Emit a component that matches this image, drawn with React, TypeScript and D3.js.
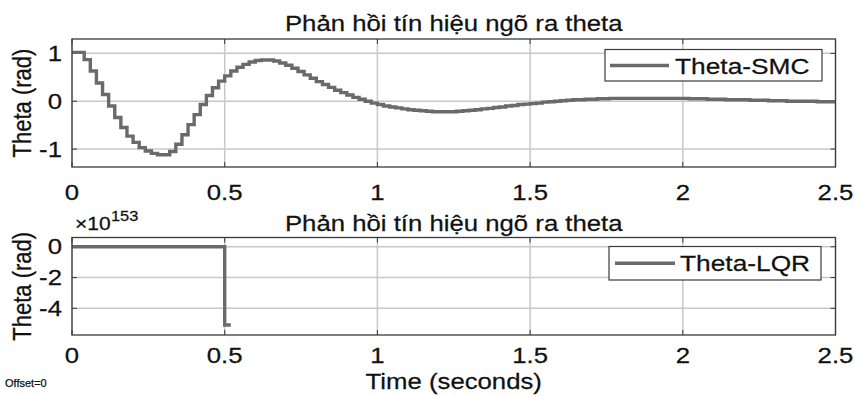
import React from "react";
import * as d3 from "d3";

// ---- data ----
const SAMPLE_TIME = 0.02; // seconds (zero-order-hold steps)
const SMC_THETA = [
  1.02, 1.02, 0.87, 0.63, 0.38, 0.14, -0.1, -0.34, -0.55, -0.73,
  -0.86, -0.97, -1.04, -1.09, -1.12, -1.12, -1.05, -0.9, -0.7, -0.49,
  -0.28, -0.07, 0.12, 0.28, 0.42, 0.53, 0.63, 0.71, 0.77, 0.82,
  0.85, 0.86, 0.86, 0.84, 0.8, 0.75, 0.69, 0.62, 0.55, 0.48,
  0.41, 0.35, 0.29, 0.23, 0.18, 0.13, 0.08, 0.04, 0.0, -0.04,
  -0.07, -0.1, -0.12, -0.14, -0.16, -0.18, -0.19, -0.2, -0.21, -0.22,
  -0.22, -0.22, -0.22, -0.21, -0.2, -0.19, -0.18, -0.16, -0.15, -0.13,
  -0.12, -0.1, -0.09, -0.07, -0.06, -0.05, -0.04, -0.02, -0.01, 0.0,
  0.01, 0.02, 0.03, 0.03, 0.04, 0.04, 0.05, 0.05, 0.06, 0.06,
  0.06, 0.06, 0.06, 0.06, 0.06, 0.06, 0.06, 0.06, 0.06, 0.06,
  0.06, 0.05, 0.05, 0.05, 0.04, 0.04, 0.04, 0.03, 0.03, 0.03,
  0.03, 0.02, 0.02, 0.02, 0.01, 0.01, 0.01, 0.0, 0.0, 0.0,
  0.0, 0.0, -0.01, -0.01, -0.01, -0.01,
];
const LQR_TIME = [0, 0.5, 0.52];
const LQR_THETA = [0, -5.08, -5.08]; // ×10^153

const X_TICKS = [0, 0.5, 1, 1.5, 2, 2.5];
const X_TICK_LABELS = ["0", "0.5", "1", "1.5", "2", "2.5"];
const TOP_Y_TICKS = [-1, 0, 1];
const TOP_Y_LABELS = ["-1", "0", "1"];
const BOT_Y_TICKS = [-4, -2, 0];
const BOT_Y_LABELS = ["-4", "-2", "0"];

const TITLE = "Phản hồi tín hiệu ngõ ra theta";
const Y_LABEL = "Theta (rad)";
const X_LABEL = "Time (seconds)";
const LEGEND_TOP = "Theta-SMC";
const LEGEND_BOT = "Theta-LQR";

// ---- styles ----
const FONT = "'Liberation Sans', Arial, sans-serif";
const SX = 1.17;
const LINE_COLOR = "#6a6a6a";
const GRID_COLOR = "#c8c8c8";
const BOX_COLOR = "#3a3a3a";

const W = 855;
const H = 396;
const LEFT = 72;
const RIGHT = 835.5;

function SText({ x, y, size, anchor = "start", children, sx = SX, weight = "normal" }: any) {
  return (
    <g transform={`translate(${x},${y}) scale(${sx},1)`}>
      <text textAnchor={anchor} fontSize={size} fontFamily={FONT} fill="#111" fontWeight={weight} stroke="#111" strokeWidth={0.25}>
        {children}
      </text>
    </g>
  );
}

function Panel({ top, bottom, domain, yTicks, yLabels, path, legend, legendBox, xLabelY }: any) {
  const x = d3.scaleLinear().domain([0, 2.5]).range([LEFT, RIGHT]);
  const y = d3.scaleLinear().domain(domain).range([bottom, top]);
  const d = path(x, y);
  return (
    <g>
      {/* grid */}
      {X_TICKS.map((t) => (
        <line key={"gx" + t} x1={x(t)} x2={x(t)} y1={top} y2={bottom} stroke={GRID_COLOR} strokeWidth={1.5} />
      ))}
      {yTicks.map((t: number) => (
        <line key={"gy" + t} x1={LEFT} x2={RIGHT} y1={y(t)} y2={y(t)} stroke={GRID_COLOR} strokeWidth={1.5} />
      ))}
      {/* ticks */}
      {X_TICKS.map((t) => (
        <g key={"tx" + t}>
          <line x1={x(t)} x2={x(t)} y1={bottom} y2={bottom - 5} stroke={BOX_COLOR} strokeWidth={1} />
          <line x1={x(t)} x2={x(t)} y1={top} y2={top + 5} stroke={BOX_COLOR} strokeWidth={1} />
        </g>
      ))}
      {yTicks.map((t: number) => (
        <g key={"ty" + t}>
          <line x1={LEFT} x2={LEFT + 5} y1={y(t)} y2={y(t)} stroke={BOX_COLOR} strokeWidth={1} />
          <line x1={RIGHT} x2={RIGHT - 5} y1={y(t)} y2={y(t)} stroke={BOX_COLOR} strokeWidth={1} />
        </g>
      ))}
      {/* data */}
      <path d={d || ""} fill="none" stroke={LINE_COLOR} strokeWidth={3.4} />
      {/* box */}
      <rect x={LEFT} y={top} width={RIGHT - LEFT} height={bottom - top} fill="none" stroke={BOX_COLOR} strokeWidth={1.3} />
      {/* tick labels */}
      {X_TICKS.map((t, i) => (
        <SText key={"lx" + t} x={x(t)} y={xLabelY} size={22} anchor="middle">
          {X_TICK_LABELS[i]}
        </SText>
      ))}
      {yTicks.map((t: number, i: number) => (
        <SText key={"ly" + t} x={62} y={y(t) + 7.5} size={22} anchor="end">
          {yLabels[i]}
        </SText>
      ))}
      {/* y label */}
      <g transform={`translate(${31},${(top + bottom) / 2}) scale(${SX},1) rotate(-90)`}>
        <text textAnchor="middle" fontSize={22} fontFamily={FONT} fill="#111" stroke="#111" strokeWidth={0.25}>
          {Y_LABEL}
        </text>
      </g>
      {/* legend */}
      <rect x={legendBox.x} y={legendBox.y} width={legendBox.w} height={legendBox.h} fill="#fff" stroke={BOX_COLOR} strokeWidth={1.2} />
      <line x1={legendBox.lx1} x2={legendBox.lx2} y1={legendBox.ly} y2={legendBox.ly} stroke={LINE_COLOR} strokeWidth={3.4} />
      <SText x={legendBox.tx} y={legendBox.ly + 8} size={22.5}>
        {legend}
      </SText>
    </g>
  );
}

export default function App() {
  const smcPath = (x: any, y: any) =>
    d3
      .line<number>()
      .x((_, i) => x(i * SAMPLE_TIME))
      .y((v) => y(v))
      .curve(d3.curveStepAfter)(SMC_THETA);
  const lqrPath = (x: any, y: any) =>
    d3
      .line<number>()
      .x((_, i) => x(LQR_TIME[i]))
      .y((v) => y(v))
      .curve(d3.curveStepAfter)(LQR_THETA);

  return (
    <svg width={W} height={H} style={{ position: "absolute", left: 0, top: 0, background: "#fff" }}>
      <rect width={W} height={H} fill="#fff" />
      <SText x={(LEFT + RIGHT) / 2} y={31} size={22} anchor="middle">
        {TITLE}
      </SText>
      <Panel
        top={39}
        bottom={167}
        domain={[-1.375, 1.3]}
        yTicks={TOP_Y_TICKS}
        yLabels={TOP_Y_LABELS}
        path={smcPath}
        legend={LEGEND_TOP}
        legendBox={{ x: 605, y: 49.5, w: 217, h: 31.5, lx1: 610, lx2: 669, ly: 65.5, tx: 675 }}
        xLabelY={200}
      />
      <SText x={(LEFT + RIGHT) / 2} y={231} size={22} anchor="middle">
        {TITLE}
      </SText>
      <g>
        <SText x={75} y={230} size={18}>
          ×10
        </SText>
        <SText x={111} y={221} size={14}>
          153
        </SText>
      </g>
      <Panel
        top={237.5}
        bottom={335}
        domain={[-5.73, 0.6]}
        yTicks={BOT_Y_TICKS}
        yLabels={BOT_Y_LABELS}
        path={lqrPath}
        legend={LEGEND_BOT}
        legendBox={{ x: 609, y: 246.5, w: 212, h: 33.5, lx1: 615, lx2: 675, ly: 263.3, tx: 680 }}
        xLabelY={363}
      />
      <SText x={(LEFT + RIGHT) / 2} y={389} size={22} anchor="middle">
        {X_LABEL}
      </SText>
      <SText x={5} y={387} size={11} sx={1}>
        Offset=0
      </SText>
    </svg>
  );
}
